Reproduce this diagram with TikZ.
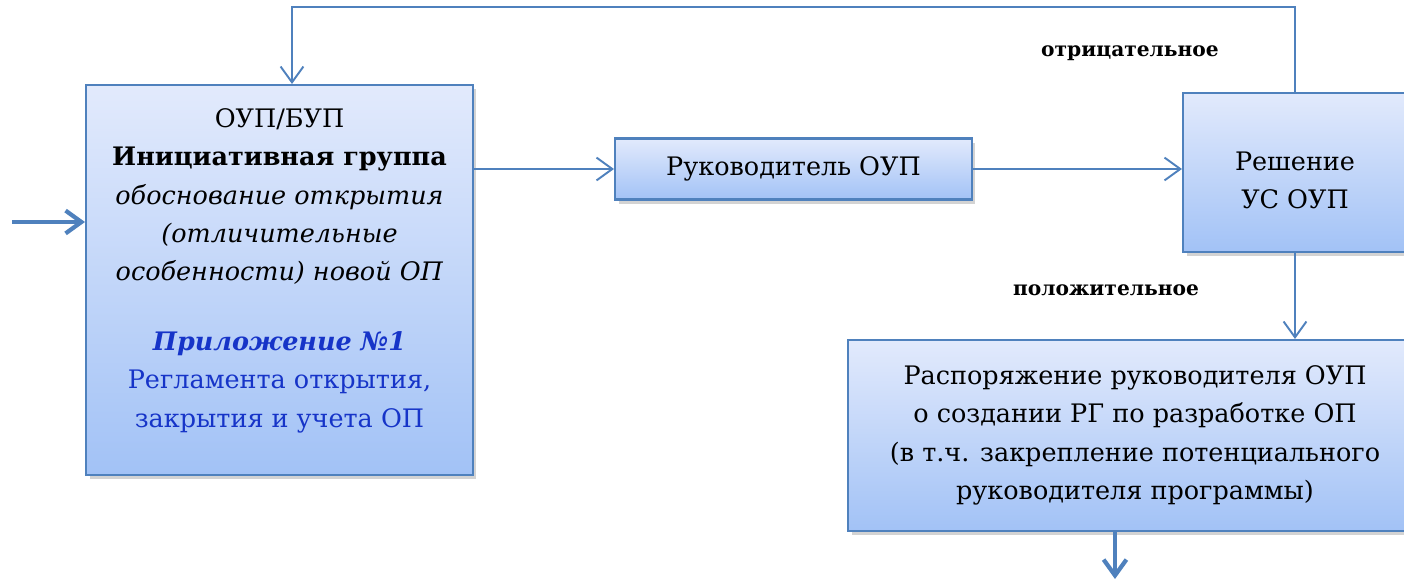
\documentclass[tikz,border=0pt]{standalone}
\usepackage{fontspec}
\setmainfont{DejaVu Serif}
\usetikzlibrary{arrows.meta,shadows}

\definecolor{lineBlue}{RGB}{79,129,189}
\definecolor{boxTop}{RGB}{226,234,252}
\definecolor{boxBot}{RGB}{162,194,246}
\definecolor{refBlue}{RGB}{22,52,200}

\tikzset{
  box/.style={draw=lineBlue,line width=1.2pt,top color=boxTop,bottom color=boxBot,
    drop shadow={opacity=.35,shadow xshift=2pt,shadow yshift=-2.5pt},
    align=center,inner sep=0pt,font=\fontsize{14.5}{21.8}\selectfont},
  flow/.style={draw=lineBlue,line width=1.1pt,-{Straight Barb[length=9pt,width=13pt]}},
  bigflow/.style={draw=lineBlue,line width=2.4pt,-{Straight Barb[length=9pt,width=13pt]}},
  verdict/.style={font=\fontsize{11.5}{14}\selectfont\bfseries}
}

\begin{document}
\begin{tikzpicture}[x=0.02cm,y=-0.02cm]
        \useasboundingbox (0,0) rectangle (1404,581);

        \begin{scope}[every node/.style={box}]
          \node[minimum width=7.74cm,minimum height=7.8cm] (iniz) at (279.5,280)
            {ОУП/БУП\\
             \textbf{Инициативная группа}\\
             \textit{обоснование открытия}\\
             \textit{(отличительные}\\
             \textit{особенности) новой ОП}\\[18pt]
             {\color{refBlue}\textbf{\textit{Приложение №1}}}\\
             {\color{refBlue}Регламента открытия,}\\
             {\color{refBlue}закрытия и учета ОП}\\[-8pt]\mbox{}};
          \node[minimum width=7.14cm,minimum height=1.22cm] (ruk) at (793.5,169) {Руководитель ОУП};
          \node[minimum width=4.48cm,minimum height=3.18cm] (resh) at (1295,172.5)
            {\mbox{}\\[-2pt]Решение\\УС ОУП};
          \node[minimum width=11.48cm,minimum height=3.82cm] (rasp) at (1135,435.5)
            {Распоряжение руководителя ОУП\\
             о создании РГ по разработке ОП\\
             (в т.ч. закрепление потенциального\\
             руководителя программы)};
        \end{scope}

        \node[verdict] (neg) at (1130,53) {отрицательное};
        \node[verdict] (pos) at (1106,290) {положительное};

        \coordinate (in)  at (12,222);
        \coordinate (out) at (1115,579);
        \coordinate (top) at (292,7);

        \draw[bigflow] (in) -- (iniz.west |- in);
        \draw[flow] (iniz.east |- ruk.west) -- (ruk.west);
        \draw[flow] (ruk.east) -- (resh.west |- ruk.east);
        \draw[flow] (resh.north) |- (top) -- (top |- iniz.north);
        \draw[flow] (resh.south) -- (resh.south |- rasp.north);
        \draw[bigflow] (rasp.south -| out) -- (out);

      \end{tikzpicture}
\end{document}
